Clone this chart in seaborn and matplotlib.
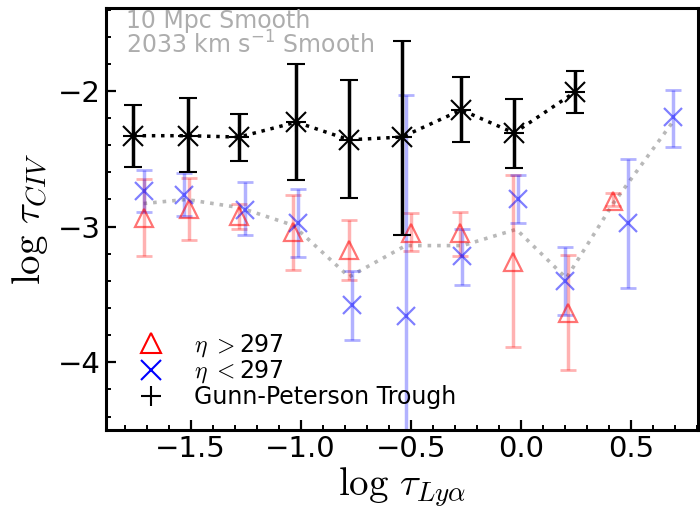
import numpy as np
import matplotlib
matplotlib.use("Agg")
import matplotlib.pyplot as plt
import seaborn as sns
from matplotlib.font_manager import FontProperties
from matplotlib.ticker import MultipleLocator

# ---- data ----
# Gunn-Peterson trough (black)
gp_x = [-1.76, -1.51, -1.28, -1.02, -0.78, -0.54, -0.27, -0.03, 0.245]
gp_y = [-2.33, -2.33, -2.34, -2.23, -2.36, -2.34, -2.14, -2.31, -2.01]
gp_hi = [-2.10, -2.05, -2.17, -1.80, -1.92, -1.63, -1.90, -2.06, -1.85]
gp_lo = [-2.56, -2.60, -2.52, -2.66, -2.79, -3.06, -2.38, -2.57, -2.16]

# eta > 297 (red triangles)
hi_x = [-1.714, -1.508, -1.28, -1.035, -0.78, -0.497, -0.274, -0.035, 0.215, 0.417]
hi_y = [-2.94, -2.87, -2.92, -3.04, -3.17, -3.05, -3.05, -3.26, -3.64, -2.81]
hi_hi = [-2.65, -2.645, -2.83, -2.77, -2.95, -2.90, -2.89, -2.62, -3.21, -2.753]
hi_lo = [-3.22, -3.10, -3.02, -3.32, -3.39, -3.18, -3.22, -3.89, -4.06, -2.85]

# eta < 297 (blue crosses)
lo_x = [-1.714, -1.53, -1.255, -1.01, -0.767, -0.523, -0.265, -0.012, 0.20, 0.488, 0.692]
lo_y = [-2.74, -2.765, -2.875, -2.97, -3.58, -3.66, -3.22, -2.80, -3.40, -2.97, -2.19]
lo_hi = [-2.585, -2.605, -2.67, -2.72, -3.33, -2.03, -3.02, -2.62, -3.15, -2.50, -1.99]
lo_lo = [-2.89, -2.925, -3.065, -3.225, -3.835, -5.50, -3.43, -2.975, -3.655, -3.455, -2.41]

# combined (grey dotted)
all_x = [-1.714, -1.52, -1.277, -1.035, -0.78, -0.523, -0.264, -0.02, 0.207, 0.42, 0.69]
all_y = [-2.83, -2.80, -2.86, -2.99, -3.37, -3.14, -3.14, -3.02, -3.38, -2.83, -2.23]

labels = [r"$\eta\ >$297", r"$\eta\ <$297", "Gunn-Peterson Trough"]
notes = ["10 Mpc Smooth", r"2033 km s$^{-1}$ Smooth"]

sns.set_style("ticks")
plt.rcParams["font.family"] = ["DejaVu Sans"]
plt.rcParams["text.color"] = "black"
plt.rcParams["axes.labelcolor"] = "black"

fig = plt.figure(figsize=(7, 5.12), dpi=100)
ax = fig.add_axes([0.151, 0.16, 0.846, 0.824])

def yerr(y, lo, hi):
    y = np.asarray(y); return [y - np.asarray(lo), np.asarray(hi) - y]

# grey combined line
sns.lineplot(x=all_x, y=all_y, ax=ax, color="grey", alpha=0.55, lw=2.6,
             linestyle=":", sort=False, zorder=1)

# red
ax.errorbar(hi_x, hi_y, yerr=yerr(hi_y, hi_lo, hi_hi), fmt="none",
            ecolor="red", alpha=0.3, elinewidth=2.5, capsize=6, capthick=2, zorder=2)
ax.plot(hi_x, hi_y, "^", ms=13, mfc="none", mec="red", mew=1.6, alpha=0.55, zorder=3)

# blue
ax.errorbar(lo_x, lo_y, yerr=yerr(lo_y, lo_lo, lo_hi), fmt="none",
            ecolor="blue", alpha=0.3, elinewidth=2.5, capsize=6, capthick=2, zorder=2)
ax.plot(lo_x, lo_y, "x", ms=13, mec="blue", mew=1.6, alpha=0.5, zorder=3)

# black GP trough
sns.lineplot(x=gp_x, y=gp_y, ax=ax, color="black", lw=2.5, linestyle=":",
             sort=False, zorder=4)
ax.errorbar(gp_x, gp_y, yerr=yerr(gp_y, gp_lo, gp_hi), fmt="x", color="black",
            ms=14, mew=1.5, elinewidth=2.5, capsize=6.5, capthick=2, zorder=5)
ax.plot(gp_x, gp_y, "+", ms=14, mew=1.5, color="black", zorder=5)

# legend proxies
ax.plot([], [], "^", ms=14, mfc="none", mec="red", mew=1.5, ls="none", label=labels[0])
ax.plot([], [], "x", ms=14, mec="blue", mew=1.5, ls="none", label=labels[1])
ax.plot([], [], "+", ms=14, mec="black", mew=1.5, ls="none", label=labels[2])
leg_prop = FontProperties(family="DejaVu Sans", size=17, math_fontfamily="cm")
ax.legend(loc="lower left", bbox_to_anchor=(0.018, 0.01), frameon=False, prop=leg_prop,
          handletextpad=1.1, labelspacing=0.0, handlelength=1.5, borderaxespad=0.3)

ax.text(0.035, 0.998, notes[0], transform=ax.transAxes, va="top", ha="left",
        fontsize=17, color="#adadad")
ax.text(0.035, 0.945, notes[1], transform=ax.transAxes, va="top", ha="left",
        fontsize=17, color="#adadad")

ax.set_xlim(-1.886, 0.805)
ax.set_ylim(-4.5, -1.39)
ax.xaxis.set_major_locator(MultipleLocator(0.5))
ax.xaxis.set_minor_locator(MultipleLocator(0.1))
ax.yaxis.set_major_locator(MultipleLocator(1.0))
ax.yaxis.set_minor_locator(MultipleLocator(0.2))
ax.tick_params(which="both", direction="in", top=False, right=False, labelsize=21,
               color="black", labelcolor="black")
ax.tick_params(which="major", length=7, width=1.6)
ax.tick_params(which="minor", length=3.5, width=1.4)
for s in ax.spines.values():
    s.set_linewidth(2.2)
    s.set_color("black")
    s.set_visible(True)

ax.set_xlabel(r"$\log\,\tau_{Ly\alpha}$", fontsize=28, math_fontfamily="cm", labelpad=2)
ax.set_ylabel(r"$\log\,\tau_{CIV}$", fontsize=28, math_fontfamily="cm", labelpad=6)

fig.savefig("out.png", dpi=100)
